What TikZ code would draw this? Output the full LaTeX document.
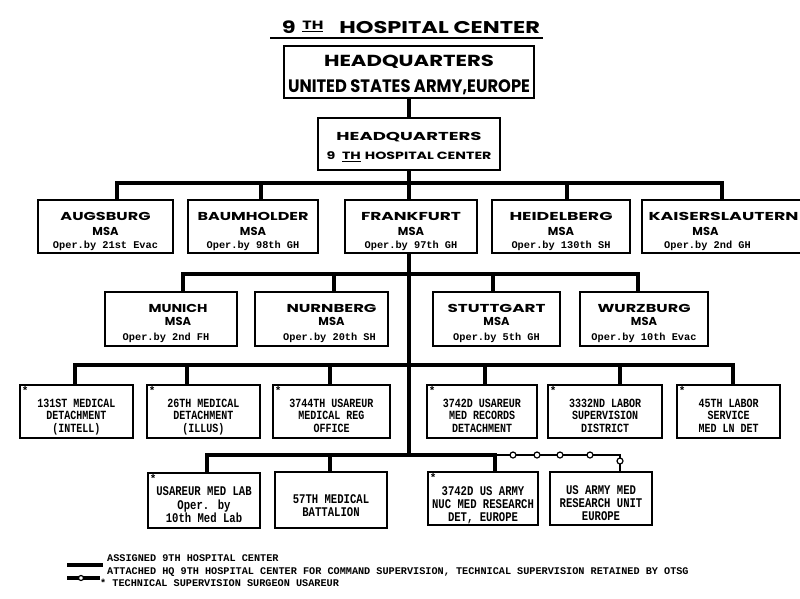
\documentclass[tikz,border=0pt]{standalone}
\usepackage{fontspec}
\usepackage{graphicx}
\newfontfamily\hdr{Poppins}
\newfontfamily\twf{Liberation Mono}
\usetikzlibrary{backgrounds}
\newcommand\W[2]{\resizebox{#1pt}{\height}{#2}}
\newcommand\T[1]{\scalebox{1}[1.25]{#1}}
\newcommand\opr[1]{{\twf\bfseries\fontsize{10.3}{12}\selectfont #1}}
\newcommand\Bx[2]{\raisebox{-#1pt}[\height][\depth]{\begin{tabular}{@{}c@{}}#2\end{tabular}}}
\begin{document}
\begin{tikzpicture}[x=1pt,y=-1pt,
  box/.style={draw=black, line width=1.7pt, fill=white, inner sep=0pt, align=center},
  bus/.style={line width=3.8pt},
  att/.style={line width=1.8pt},
  ring/.style={circle, draw=black, fill=white, line width=1.2pt, inner sep=0pt, minimum size=6pt},
  hdA/.style={font=\hdr\bfseries\fontsize{11.5}{15}\selectfont},
  hdB/.style={font=\hdr\bfseries\fontsize{11.5}{13}\selectfont},
  tw/.style={font=\twf\bfseries\fontsize{10}{12.3}\selectfont},
  twB/.style={font=\twf\bfseries\fontsize{10.6}{13.5}\selectfont},
  star/.style={label={[anchor=north west, inner sep=2.5pt, font=\twf\bfseries\fontsize{11}{11}\selectfont]north west:*}},
  legend/.style={font=\twf\bfseries\fontsize{10.2}{10}\selectfont, inner sep=0pt}
]
\useasboundingbox (0,0) rectangle (800,598);
\clip (0,0) rectangle (800,598);

% title
\node[anchor=base, inner sep=0pt, font=\hdr\bfseries\fontsize{17}{17}\selectfont] (title) at (411,33.3)
  {\W{258}{9\hspace{5pt}\raisebox{4pt}{\fontsize{12}{12}\selectfont\underline{TH}}\hspace{12pt}HOSPITAL CENTER}};
\draw[line width=2.2pt] (270,38) -- (543,38);

% top boxes
\node[box, minimum width=250, minimum height=52, font=\hdr\bfseries\fontsize{16}{26}\selectfont] (usa) at (409,72)
  {\Bx{1.8}{\W{170}{HEADQUARTERS}\\{\fontsize{18}{26}\selectfont\W{242}{UNITED STATES ARMY,EUROPE}}}};
\node[box, minimum width=182, minimum height=52, font=\hdr\bfseries\fontsize{11.5}{19.3}\selectfont] (hq9) at (409,144)
  {\Bx{1.8}{\W{145}{HEADQUARTERS}\\{\fontsize{10.5}{19.3}\selectfont\W{165}{9\hspace{5pt}\underline{TH}\hspace{3pt}HOSPITAL CENTER}}}};

% row 1
\node[box, hdA, minimum width=135, minimum height=53] (aug) at (105.5,226.5)
  {\Bx{4.5}{\W{90}{AUGSBURG}\\MSA\\[-2pt]\opr{Oper.by 21st Evac}}};
\node[box, hdA, minimum width=130, minimum height=53] (bau) at (253,226.5)
  {\Bx{4.5}{\W{111}{BAUMHOLDER}\\MSA\\[-2pt]\opr{Oper.by 98th GH}}};
\node[box, hdA, minimum width=132, minimum height=53] (fra) at (411,226.5)
  {\Bx{4.5}{\W{100}{FRANKFURT}\\MSA\\[-2pt]\opr{Oper.by 97th GH}}};
\node[box, hdA, minimum width=138, minimum height=53] (hei) at (561,226.5)
  {\Bx{4.5}{\W{103}{HEIDELBERG}\\MSA\\[-2pt]\opr{Oper.by 130th SH}}};
\node[box, hdA, minimum width=163, minimum height=53] (kai) at (723.5,226.5)
  {\Bx{4.5}{\W{150}{KAISERSLAUTERN}\\MSA\hspace*{36pt}\\[-2pt]\opr{Oper.by 2nd GH}\hspace*{32pt}}};

% row 2
\node[box, hdB, minimum width=132, minimum height=54] (mun) at (171,319)
  {\Bx{4.4}{\W{59}{MUNICH}\hspace*{-14pt}\\MSA\hspace*{-14pt}\\[2pt]\opr{Oper.by 2nd FH}\hspace*{10pt}}};
\node[box, hdB, minimum width=133, minimum height=54] (nur) at (321.5,319)
  {\Bx{4.4}{\hspace*{20pt}\W{90}{NURNBERG}\\\hspace*{20pt}MSA\\[2pt]\hspace*{16pt}\opr{Oper.by 20th SH}}};
\node[box, hdB, minimum width=127, minimum height=54] (stu) at (496.5,319)
  {\Bx{4.4}{\W{98}{STUTTGART}\\MSA\\[2pt]\opr{Oper.by 5th GH}}};
\node[box, hdB, minimum width=128, minimum height=54] (wur) at (644,319)
  {\Bx{4.4}{\W{93}{WURZBURG}\\MSA\\[2pt]\opr{Oper.by 10th Evac}}};

% row 3
\node[box, tw, star, minimum width=113, minimum height=53] (d131) at (76.5,411.5)
  {\Bx{6}{\T{131ST MEDICAL}\\\T{DETACHMENT}\\\T{(INTELL)}}};
\node[box, tw, star, minimum width=113, minimum height=53] (d26) at (203.5,411.5)
  {\Bx{6}{\T{26TH MEDICAL}\\\T{DETACHMENT}\\\T{(ILLUS)}}};
\node[box, tw, star, minimum width=117, minimum height=53] (d3744) at (331.5,411.5)
  {\Bx{6}{\T{3744TH USAREUR}\\\T{MEDICAL REG}\\\T{OFFICE}}};
\node[box, tw, star, minimum width=110, minimum height=53] (d3742) at (482,411.5)
  {\Bx{6}{\T{3742D USAREUR}\\\T{MED RECORDS}\\\T{DETACHMENT}}};
\node[box, tw, star, minimum width=114, minimum height=53] (d3332) at (605,411.5)
  {\Bx{6}{\T{3332ND LABOR}\\\T{SUPERVISION}\\\T{DISTRICT}}};
\node[box, tw, star, minimum width=103, minimum height=53] (d45) at (728.5,411.5)
  {\Bx{6}{\T{45TH LABOR}\\\T{SERVICE}\\\T{MED LN DET}}};

% row 4
\node[box, twB, star, minimum width=112, minimum height=55] (lab) at (204,500.5)
  {\Bx{5.8}{\T{USAREUR MED LAB}\\[0.5pt]\T{Oper. by}\\[-0.5pt]\T{10th Med Lab}}};
\node[box, twB, minimum width=112, minimum height=56] (b57) at (331,500)
  {\Bx{7}{\T{57TH MEDICAL}\\[-0.5pt]\T{BATTALION}}};
\node[box, twB, star, minimum width=110, minimum height=53] (nuc) at (483,498.5)
  {\Bx{6.8}{\T{3742D US ARMY}\\[-0.5pt]\T{NUC MED RESEARCH}\\[-0.5pt]\T{DET, EUROPE}}};
\node[box, twB, minimum width=102, minimum height=53] (res) at (601,498.5)
  {\Bx{5.8}{\T{US ARMY MED}\\[-0.5pt]\T{RESEARCH UNIT}\\[-0.5pt]\T{EUROPE}}};

% bus coordinates
\coordinate (b1) at (409,183);
\coordinate (b2) at (409,274);
\coordinate (b3) at (409,365);
\coordinate (b4) at (409,455);

\begin{scope}[on background layer]
  \draw[bus] (usa.south) -- (hq9.north);
  \draw[bus] (hq9.south) -- (b4);
  % row 1
  \draw[bus] ([xshift=11.5]aug.north) |- (b1) -| ([xshift=-1.5]kai.north);
  \draw[bus] ([xshift=8]bau.north) -- ([xshift=8]bau.north |- b1);
  \draw[bus] ([xshift=6]hei.north) -- ([xshift=6]hei.north |- b1);
  % row 2
  \draw[bus] ([xshift=12]mun.north) |- (b2) -| ([xshift=-6]wur.north);
  \draw[bus] ([xshift=12.5]nur.north) -- ([xshift=12.5]nur.north |- b2);
  \draw[bus] ([xshift=-3.5]stu.north) -- ([xshift=-3.5]stu.north |- b2);
  % row 3
  \draw[bus] ([xshift=-1.5]d131.north) |- (b3) -| ([xshift=4.5]d45.north);
  \draw[bus] ([xshift=-16.5]d26.north) -- ([xshift=-16.5]d26.north |- b3);
  \draw[bus] ([xshift=-1.5]d3744.north) -- ([xshift=-1.5]d3744.north |- b3);
  \draw[bus] ([xshift=3]d3742.north) -- ([xshift=3]d3742.north |- b3);
  \draw[bus] ([xshift=15]d3332.north) -- ([xshift=15]d3332.north |- b3);
  % row 4
  \draw[bus] ([xshift=3]lab.north) |- (b4) -| ([xshift=12]nuc.north);
  \draw[bus] ([xshift=-1]b57.north) -- ([xshift=-1]b57.north |- b4);
  \draw[att] ([xshift=12]nuc.north |- b4) -| ([xshift=19]res.north);
\end{scope}
\node[ring] (c1) at (513,455) {};
\node[ring] (c2) at (537,455) {};
\node[ring] (c3) at (560,455) {};
\node[ring] (c4) at (590,455) {};
\node[ring] (c5) at (620,461) {};

% legend
\coordinate (l1a) at (67,565);
\coordinate (l1b) at (103,565);
\coordinate (l2a) at (67,578);
\coordinate (l2b) at (100,578);
\draw[line width=3.5pt] (l1a) -- (l1b);
\draw[line width=3.5pt] (l2a) -- (l2b);
\node[ring, minimum size=5pt] (lc) at (81,578) {};
\node[legend, anchor=base west] (lg1) at (107,561) {ASSIGNED 9TH HOSPITAL CENTER};
\node[legend, anchor=base west] (lg2) at (107,574) {ATTACHED HQ 9TH HOSPITAL CENTER FOR COMMAND SUPERVISION, TECHNICAL SUPERVISION RETAINED BY OTSG};
\node[legend, anchor=base west] (lg3) at (100,586) {* TECHNICAL SUPERVISION SURGEON USAREUR};
\end{tikzpicture}
\end{document}
